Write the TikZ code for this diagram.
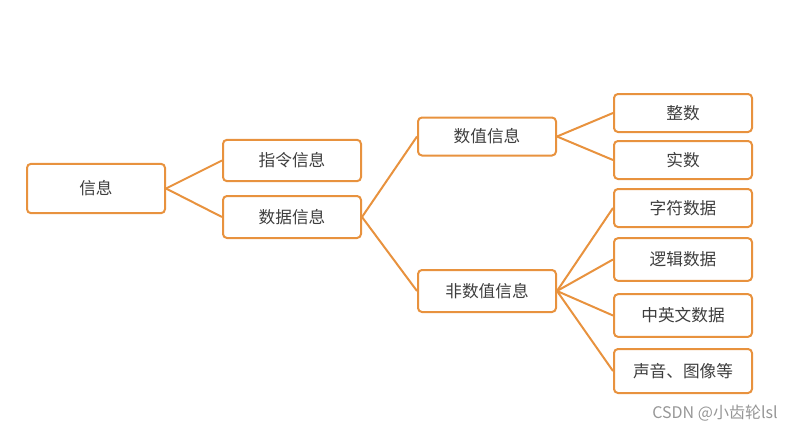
\documentclass[tikz,border=0pt]{standalone}
\usepackage{xcolor}
\usepackage{fontspec}
\usepackage{tikz}
\usetikzlibrary{positioning}
\newfontfamily\cjk{Noto Sans CJK SC}
\definecolor{myorange}{RGB}{232,146,62}
\definecolor{mytext}{RGB}{62,62,62}
\definecolor{mymark}{RGB}{150,150,150}
\tikzset{
  infobox/.style={rectangle, draw=myorange, fill=white,
    minimum width=103.5pt, minimum height=28.5pt,
    font=\cjk\fontsize{12.5}{15}\selectfont, text=mytext,
    rounded corners=3pt, line width=1.5pt, inner sep=0pt},
  link/.style={line width=1.5pt, color=myorange}
}

\begin{document}
\begin{tikzpicture}[x=0.75pt, y=-0.75pt]
  \useasboundingbox (0,0) rectangle (797,432);

  % Level 1
  \node[infobox, minimum height=37pt] (info) at (96,188.5) {信息};

  % Level 2
  \node[infobox, minimum height=31pt] (instr) at (292,160.5) {指令信息};
  \node[infobox, minimum height=31.5pt] (data) at (292,217) {数据信息};

  % Level 3
  \node[infobox] (num) at (487,136.5) {数值信息};
  \node[infobox, minimum height=31.5pt] (nonnum) at (487,291) {非数值信息};

  % Level 4
  \node[infobox] (int) at (683,113) {整数};
  \node[infobox] (real) at (683,160) {实数};
  \node[infobox] (chr) at (683,208) {字符数据};
  \node[infobox, minimum height=32pt] (logic) at (683,259.5) {逻辑数据};
  \node[infobox, minimum height=32pt] (lang) at (683,315.5) {中英文数据};
  \node[infobox, minimum height=33pt] (media) at (683,371) {声音、图像等};

  % Links
  \draw[link] (info.east) -- (instr.west);
  \draw[link] (info.east) -- (data.west);
  \draw[link] (data.east) -- (num.west);
  \draw[link] (data.east) -- (nonnum.west);
  \draw[link] (num.east) -- (int.west);
  \draw[link] (num.east) -- (real.west);
  \draw[link] (nonnum.east) -- (chr.west);
  \draw[link] (nonnum.east) -- (logic.west);
  \draw[link] (nonnum.east) -- (lang.west);
  \draw[link] (nonnum.east) -- (media.west);

  % Watermark
  \node[font=\cjk\fontsize{12}{14}\selectfont, text=mymark] (mark) at (715,413) {CSDN @小齿轮lsl};
\end{tikzpicture}
\end{document}
